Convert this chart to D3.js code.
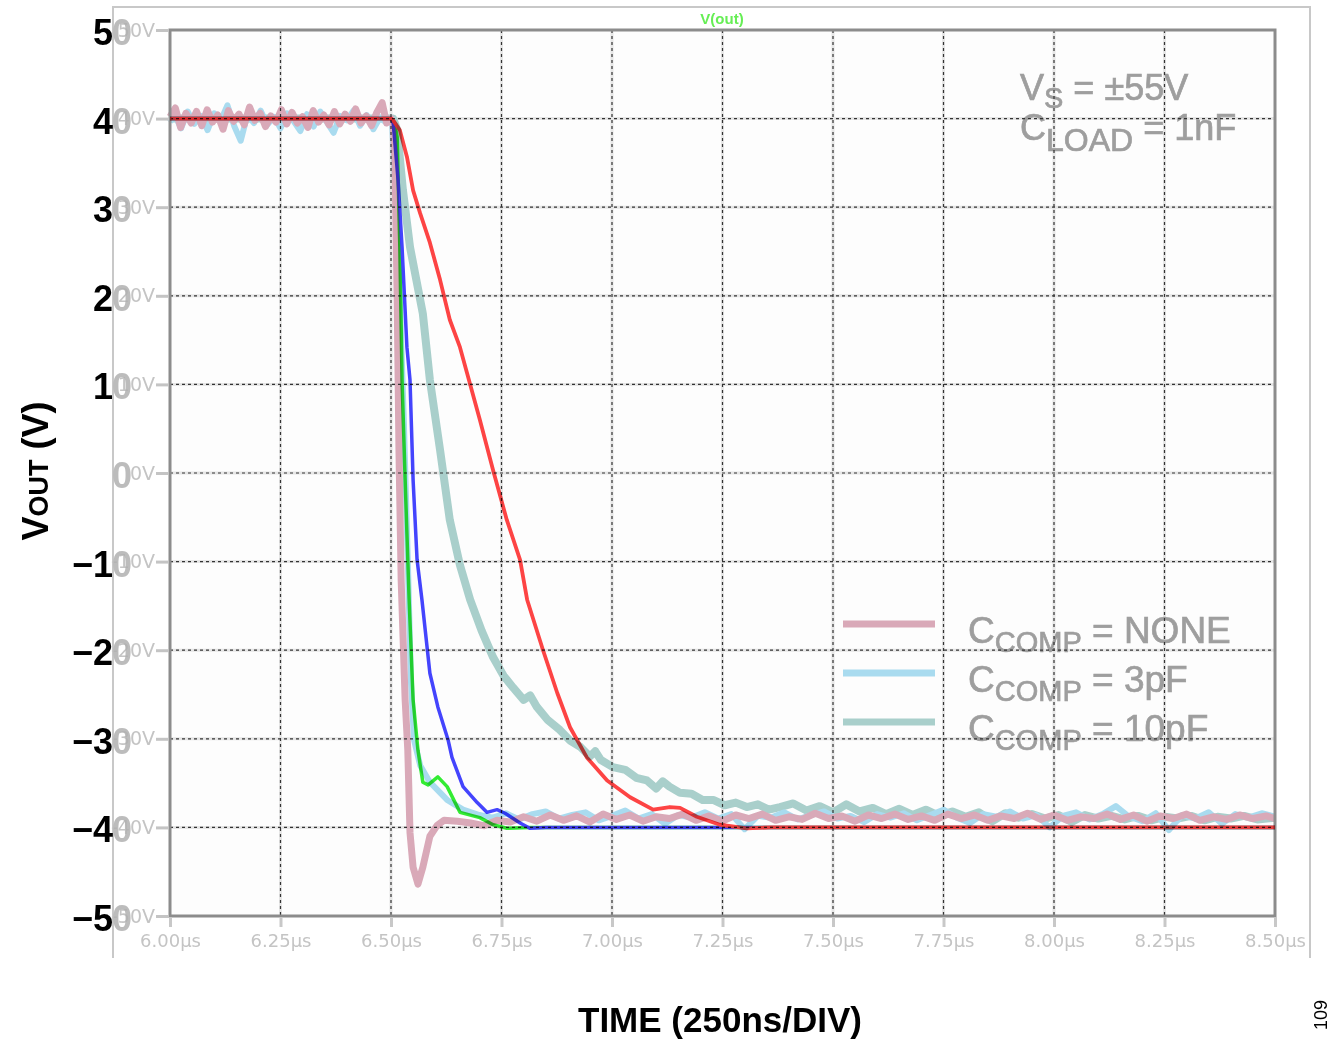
<!DOCTYPE html>
<html>
<head>
<meta charset="utf-8">
<script src="https://cdn.jsdelivr.net/npm/d3@7"></script>
<style>
  body { margin: 0; background: #fff; }
  svg { display: block; }
</style>
</head>
<body>
<svg id="chart" width="1332" height="1040"></svg>
<script>
// ticks
const xTicks = [6.00, 6.25, 6.50, 6.75, 7.00, 7.25, 7.50, 7.75, 8.00, 8.25, 8.50];
const yTicks = [50, 40, 30, 20, 10, 0, -10, -20, -30, -40, -50];
const bigYLabels = ["5", "4", "3", "2", "1", "", "\u22121", "\u22122", "\u22123", "\u22124", "\u22125"];

// measured traces (datasheet scope), [time us, volts]
const pinkTrace = [
  [6.000, 40.2], [6.012, 41.2], [6.024, 39.0], [6.036, 40.6], [6.048, 39.5], [6.060, 40.8], [6.072, 39.2],
  [6.084, 41.0], [6.096, 39.6], [6.108, 40.4], [6.120, 38.8], [6.132, 40.9], [6.144, 39.7], [6.156, 40.5],
  [6.168, 39.3], [6.180, 41.3], [6.192, 39.8], [6.204, 40.6], [6.216, 39.1], [6.228, 40.3], [6.240, 39.6],
  [6.252, 41.0], [6.264, 39.4], [6.276, 40.7], [6.288, 39.5], [6.300, 40.2], [6.312, 39.0], [6.324, 40.9],
  [6.336, 39.6], [6.348, 40.4], [6.360, 39.3], [6.372, 40.8], [6.384, 39.4], [6.396, 40.5], [6.408, 39.7],
  [6.420, 41.1], [6.432, 39.5], [6.444, 40.3], [6.456, 39.2], [6.468, 40.7], [6.480, 41.8], [6.490, 39.5],
  [6.500, 40.0],
  [6.505, 39.3], [6.509, 35.3], [6.514, 19.5], [6.518, 2.6], [6.523, -12.1], [6.532, -25.6], [6.538, -31.3],
  [6.543, -40.6], [6.550, -44.5], [6.561, -46.4], [6.572, -44.5], [6.588, -41.0], [6.604, -39.8], [6.620, -39.2],
  [6.650, -39.3], [6.680, -39.5], [6.710, -39.8], [6.740, -39.2], [6.770, -39.4], [6.800, -38.8], [6.830, -39.3],
  [6.860, -38.6], [6.890, -39.2], [6.920, -38.7], [6.950, -39.4], [6.980, -38.5], [7.010, -39.1], [7.040, -38.6],
  [7.070, -39.3], [7.100, -38.8], [7.130, -39.0], [7.160, -38.5], [7.190, -39.2], [7.220, -38.7], [7.250, -39.3],
  [7.280, -38.6], [7.310, -39.0], [7.340, -38.5], [7.370, -39.2], [7.400, -38.8], [7.430, -39.1], [7.460, -38.4],
  [7.490, -39.0], [7.520, -38.7], [7.550, -39.3], [7.580, -38.6], [7.610, -39.0], [7.640, -38.5], [7.670, -39.1],
  [7.700, -38.7], [7.730, -39.2], [7.760, -38.5], [7.790, -39.0], [7.820, -38.6], [7.850, -39.2], [7.880, -38.7],
  [7.910, -39.0], [7.940, -38.4], [7.970, -39.1], [8.000, -38.6], [8.030, -39.2], [8.060, -38.8], [8.090, -39.0],
  [8.120, -38.5], [8.150, -39.1], [8.180, -38.6], [8.210, -39.3], [8.240, -38.7], [8.270, -39.0], [8.300, -38.5],
  [8.330, -39.2], [8.360, -38.8], [8.390, -39.1], [8.420, -38.6], [8.450, -39.0], [8.480, -38.7], [8.500, -39.0]
];
const blueTrace = [
  [6.000, 39.6], [6.010, 40.5], [6.025, 38.9], [6.040, 40.8], [6.055, 39.4], [6.070, 40.3], [6.085, 38.7],
  [6.100, 40.6], [6.115, 39.8], [6.130, 41.5], [6.145, 39.2], [6.160, 37.5], [6.175, 40.4], [6.190, 39.5],
  [6.205, 40.9], [6.220, 39.3], [6.235, 40.2], [6.250, 38.9], [6.265, 40.6], [6.280, 39.7], [6.295, 38.6],
  [6.310, 40.5], [6.325, 39.1], [6.340, 40.8], [6.355, 39.6], [6.370, 38.4], [6.385, 40.3], [6.400, 39.8],
  [6.415, 40.9], [6.430, 39.2], [6.445, 40.4], [6.460, 38.8], [6.475, 40.1], [6.490, 39.5], [6.502, 40.0],
  [6.511, 30.8], [6.520, 19.5], [6.529, 6.0], [6.538, -9.8], [6.545, -23.4], [6.552, -30.1], [6.566, -33.0],
  [6.588, -34.9], [6.627, -36.9], [6.663, -38.0], [6.700, -38.6], [6.730, -38.9], [6.760, -38.4], [6.790, -39.1],
  [6.820, -38.5], [6.850, -38.2], [6.880, -39.0], [6.910, -38.6], [6.940, -38.3], [6.970, -39.2], [7.000, -38.7],
  [7.030, -38.1], [7.060, -39.0], [7.090, -38.5], [7.120, -39.6], [7.150, -38.6], [7.180, -38.9], [7.210, -38.3],
  [7.240, -39.0], [7.270, -38.5], [7.300, -40.2], [7.330, -38.7], [7.360, -38.9], [7.390, -38.3], [7.420, -39.1],
  [7.450, -38.6], [7.480, -38.2], [7.510, -39.0], [7.540, -38.7], [7.570, -39.4], [7.600, -38.5], [7.630, -38.9],
  [7.660, -38.4], [7.690, -39.2], [7.720, -38.6], [7.750, -38.0], [7.780, -38.9], [7.810, -39.5], [7.840, -38.5],
  [7.870, -38.8], [7.900, -38.2], [7.930, -39.0], [7.960, -38.6], [7.990, -40.0], [8.020, -38.7], [8.050, -38.3],
  [8.080, -39.1], [8.110, -38.5], [8.140, -37.6], [8.170, -38.8], [8.200, -39.3], [8.230, -38.4], [8.260, -40.3],
  [8.290, -38.6], [8.320, -39.0], [8.350, -38.3], [8.380, -39.6], [8.410, -38.5], [8.440, -38.9], [8.470, -38.4],
  [8.500, -38.8]
];
const tealTrace = [
  [6.000, 40.0], [6.500, 40.0], [6.505, 40.0], [6.514, 38.7], [6.527, 31.9], [6.543, 25.5], [6.572, 18.0],
  [6.588, 10.5], [6.611, 2.6], [6.633, -5.3], [6.656, -10.4], [6.679, -14.3], [6.705, -17.8], [6.731, -20.8],
  [6.755, -22.9], [6.776, -24.2], [6.800, -25.6], [6.815, -25.1], [6.830, -26.4], [6.855, -27.9], [6.882, -29.0],
  [6.905, -30.2], [6.928, -30.9], [6.950, -32.0], [6.962, -31.4], [6.975, -32.4], [7.002, -33.2], [7.030, -33.5],
  [7.055, -34.4], [7.079, -34.7], [7.100, -35.6], [7.115, -34.8], [7.130, -35.4], [7.154, -36.1], [7.180, -36.2],
  [7.205, -36.9], [7.229, -36.9], [7.255, -37.5], [7.280, -37.2], [7.305, -37.7], [7.330, -37.4], [7.355, -38.0],
  [7.380, -37.7], [7.410, -37.3], [7.440, -38.1], [7.470, -37.6], [7.500, -38.3], [7.530, -37.4], [7.560, -38.2],
  [7.590, -37.8], [7.620, -38.5], [7.650, -37.9], [7.680, -38.6], [7.710, -38.0], [7.740, -38.7], [7.770, -38.2],
  [7.800, -38.8], [7.830, -38.3], [7.860, -39.3], [7.890, -38.4], [7.920, -38.9], [7.950, -38.5], [7.980, -39.0],
  [8.010, -38.6], [8.040, -39.4], [8.070, -38.6], [8.100, -39.0], [8.130, -38.7], [8.160, -39.1], [8.190, -38.7],
  [8.220, -39.2], [8.250, -38.8], [8.280, -39.0], [8.310, -38.7], [8.340, -39.2], [8.370, -38.8], [8.400, -39.0],
  [8.430, -38.7], [8.460, -39.1], [8.500, -38.9]
];

// simulated traces (spice), [time us, volts]
const simGreen = [
  [6.000, 40.0], [6.500, 40.0], [6.509, 39.3], [6.514, 37.9], [6.520, 25.5], [6.525, 10.5], [6.532, -0.8],
  [6.541, -14.3], [6.550, -25.6], [6.561, -31.3], [6.572, -34.9], [6.584, -35.2], [6.606, -34.3], [6.627, -35.4],
  [6.656, -38.3], [6.701, -38.9], [6.731, -39.7], [6.762, -40.1], [6.814, -40.0], [8.500, -40.0]
];
const simBlue = [
  [6.000, 40.0], [6.500, 40.0], [6.505, 39.5], [6.516, 33.1], [6.525, 25.5], [6.536, 14.2], [6.543, 10.5],
  [6.550, -0.8], [6.559, -9.8], [6.570, -14.3], [6.588, -22.6], [6.606, -26.4], [6.629, -30.1], [6.638, -32.1],
  [6.663, -35.4], [6.695, -37.2], [6.717, -38.3], [6.740, -38.0], [6.758, -38.4], [6.792, -39.5], [6.814, -40.1],
  [6.850, -40.0], [8.500, -40.0]
];
const simRed = [
  [6.000, 40.0], [6.500, 40.0], [6.505, 39.8], [6.520, 38.7], [6.536, 35.7], [6.550, 31.9], [6.566, 29.3],
  [6.588, 26.0], [6.611, 21.8], [6.633, 17.3], [6.656, 14.2], [6.672, 11.3], [6.701, 6.0], [6.731, 0.3],
  [6.762, -5.3], [6.792, -9.8], [6.808, -14.3], [6.844, -20.0], [6.876, -24.8], [6.905, -28.7], [6.943, -32.1],
  [6.989, -34.7], [7.041, -36.6], [7.093, -38.0], [7.131, -37.7], [7.154, -37.8], [7.192, -38.8], [7.244, -39.7],
  [7.305, -40.1], [7.360, -40.0], [8.500, -40.0]
];

const legendNames = ["NONE", "3pF", "10pF"];
const legendColors = ["#d9a9b8", "#a9dbef", "#a9cfcb"];

const svg = d3.select("#chart");
const x = d3.scaleLinear().domain([6.0, 8.5]).range([170, 1275]);
const y = d3.scaleLinear().domain([-50, 50]).range([916, 30]);
const line = d3.line().x(d => x(d[0])).y(d => y(d[1]));

// outer spice window frame
svg.append("path")
    .attr("d", "M113,958 V7 H1310 V958")
    .attr("fill", "none")
    .attr("stroke", "#c8c8c8")
    .attr("stroke-width", 2);

svg.append("rect")
    .attr("x", x(6.0)).attr("y", y(50))
    .attr("width", x(8.5) - x(6.0)).attr("height", y(-50) - y(50))
    .attr("fill", "#fdfdfd");

// light grid under everything
const gridGroup = svg.append("g");
gridGroup.selectAll(".gx").data(xTicks.slice(1, -1)).join("line")
    .attr("x1", d => x(d)).attr("x2", d => x(d))
    .attr("y1", y(50)).attr("y2", y(-50))
    .attr("stroke", "#e6e6e6").attr("stroke-width", 3);
gridGroup.selectAll(".gy").data(yTicks.slice(1, -1)).join("line")
    .attr("x1", x(6.0)).attr("x2", x(8.5))
    .attr("y1", d => y(d)).attr("y2", d => y(d))
    .attr("stroke", "#e6e6e6").attr("stroke-width", 3);

// measured traces
const measured = [[tealTrace, legendColors[2], 8], [blueTrace, legendColors[1], 6], [pinkTrace, legendColors[0], 7]];
measured.forEach(([data, color, w]) => {
    svg.append("path")
        .datum(data)
        .attr("d", line)
        .attr("fill", "none")
        .attr("stroke", color)
        .attr("stroke-width", w)
        .attr("stroke-linejoin", "round");
});

// annotation text
const textFont = "Arial, 'Liberation Sans', sans-serif";
const note1 = svg.append("text").attr("x", 1020).attr("y", 100)
    .attr("font-family", textFont).attr("fill", "#9e9e9e").attr("font-size", 36)
    .attr("stroke", "#9e9e9e").attr("stroke-width", 0.7);
note1.append("tspan").text("V");
note1.append("tspan").attr("font-size", 29).attr("dy", 8).text("S");
note1.append("tspan").attr("dy", -8).text(" = \u00b155V");

const note2 = svg.append("text").attr("x", 1020).attr("y", 140)
    .attr("font-family", textFont).attr("fill", "#9e9e9e").attr("font-size", 36)
    .attr("stroke", "#9e9e9e").attr("stroke-width", 0.7);
note2.append("tspan").text("C");
note2.append("tspan").attr("font-size", 32).attr("dy", 11).text("LOAD");
note2.append("tspan").attr("dy", -11).text(" = 1nF");

// legend
const legend = svg.append("g");
legendNames.forEach((name, i) => {
    const ly = 624 + i * 49;
    legend.append("line")
        .attr("x1", 843).attr("x2", 935).attr("y1", ly).attr("y2", ly)
        .attr("stroke", legendColors[i]).attr("stroke-width", 7);
    const t = legend.append("text").attr("x", 968).attr("y", ly + 19)
        .attr("font-family", textFont).attr("fill", "#9e9e9e").attr("font-size", 37)
        .attr("stroke", "#9e9e9e").attr("stroke-width", 0.7);
    t.append("tspan").text("C");
    t.append("tspan").attr("font-size", 29).attr("dy", 9).text("COMP");
    t.append("tspan").attr("dy", -9).text(" = " + name);
});

// dashed grid on top
const dashGroup = svg.append("g");
dashGroup.selectAll(".dx").data(xTicks.slice(1, -1)).join("line")
    .attr("x1", d => x(d)).attr("x2", d => x(d))
    .attr("y1", y(50)).attr("y2", y(-50))
    .attr("stroke", "#333").attr("stroke-width", 1.2).attr("stroke-dasharray", "3,3");
dashGroup.selectAll(".dy").data(yTicks.slice(1, -1)).join("line")
    .attr("x1", x(6.0)).attr("x2", x(8.5))
    .attr("y1", d => y(d)).attr("y2", d => y(d))
    .attr("stroke", "#333").attr("stroke-width", 1.2).attr("stroke-dasharray", "3,3");

// plot frame
svg.append("rect")
    .attr("x", x(6.0)).attr("y", y(50))
    .attr("width", x(8.5) - x(6.0)).attr("height", y(-50) - y(50))
    .attr("fill", "none").attr("stroke", "#8c8c8c").attr("stroke-width", 3);

// simulated traces, blended as one layer over the scope picture
const simGroup = svg.append("g").style("mix-blend-mode", "multiply");
const simulated = [[simGreen, "#33ee33", 3.5], [simBlue, "#4444ff", 3.5], [simRed, "#ff4444", 3.8]];
simulated.forEach(([data, color, w]) => {
    simGroup.append("path")
        .datum(data)
        .attr("d", line)
        .attr("fill", "none")
        .attr("stroke", color)
        .attr("stroke-width", w)
        .attr("stroke-linejoin", "round");
});

// spice axes
const smallFont = "'DejaVu Sans', sans-serif";
const yAxis = svg.append("g")
    .attr("transform", `translate(${x(6.0) - 1},0)`)
    .call(d3.axisLeft(y).tickValues(yTicks).tickSize(13).tickPadding(1)
        .tickFormat(d => (d < 0 ? "-" : "") + Math.abs(d) + "V"));
yAxis.select(".domain").remove();
yAxis.selectAll(".tick line").attr("stroke", "#c4c4c4").attr("stroke-width", 3);
yAxis.selectAll(".tick text").attr("fill", "#c4c4c4").attr("font-family", smallFont).attr("font-size", 19);

const xAxis = svg.append("g")
    .attr("transform", `translate(0,${y(-50) + 1})`)
    .call(d3.axisBottom(x).tickValues(xTicks).tickSize(10).tickPadding(7)
        .tickFormat(d => d3.format(".2f")(d) + "\u00b5s"));
xAxis.select(".domain").remove();
xAxis.selectAll(".tick line").attr("stroke", "#c8c8c8").attr("stroke-width", 3);
xAxis.selectAll(".tick text").attr("fill", "#c4c4c4").attr("font-family", smallFont).attr("font-size", 18);

// datasheet y labels
const bigLabels = svg.append("g").attr("font-family", textFont).attr("font-weight", "bold").attr("font-size", 36);
yTicks.forEach((v, i) => {
    bigLabels.append("text").attr("x", 113).attr("y", y(v) + 15)
        .attr("text-anchor", "end").attr("fill", "#000").text(bigYLabels[i]);
    bigLabels.append("text").attr("x", 112).attr("y", y(v) + 15)
        .attr("fill", "#b0b0b0").attr("fill-opacity", 0.85).text("0");
});

// header
svg.append("text").attr("x", 722).attr("y", 24).attr("text-anchor", "middle")
    .attr("font-family", textFont).attr("font-weight", "bold").attr("font-size", 15)
    .attr("fill", "#66ee55").text("V(out)");

// axis titles
const yTitle = svg.append("text")
    .attr("transform", "translate(48,471) rotate(-90)")
    .attr("text-anchor", "middle")
    .attr("font-family", textFont).attr("font-weight", "bold").attr("font-size", 36).attr("fill", "#000");
yTitle.append("tspan").text("V");
yTitle.append("tspan").attr("font-size", 27).text("OUT");
yTitle.append("tspan").text(" (V)");

svg.append("text").attr("x", 720).attr("y", 1032).attr("text-anchor", "middle")
    .attr("font-family", textFont).attr("font-weight", "bold").attr("font-size", 35)
    .attr("fill", "#000").text("TIME (250ns/DIV)");

svg.append("text")
    .attr("transform", "translate(1327,1015) rotate(-90)")
    .attr("text-anchor", "middle")
    .attr("font-family", textFont).attr("font-size", 18).attr("fill", "#000").text("109");
</script>
</body>
</html>
